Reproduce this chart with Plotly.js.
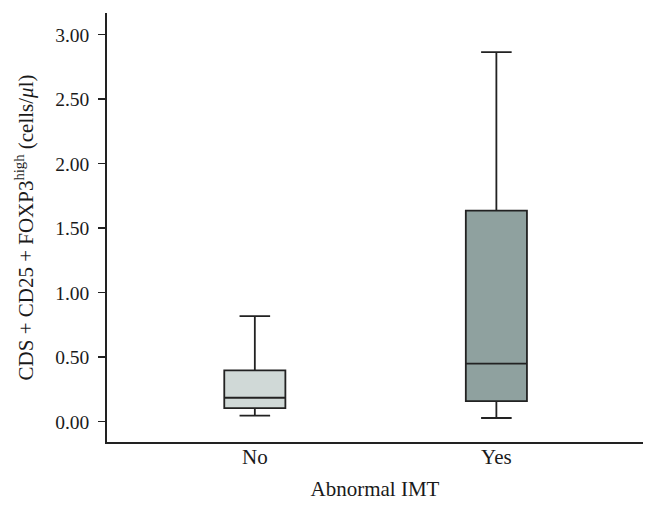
<!DOCTYPE html>
<html>
<head>
<meta charset="utf-8">
<script src="https://cdn.plot.ly/plotly-3.0.1.min.js"></script>
<style>html,body{margin:0;padding:0;background:#fff;}#chart{width:658px;height:513px;}</style>
</head>
<body>
<div id="chart"></div>
<script>
const categories = ['No', 'Yes'];
const lowerWhisker = [0.047, 0.029];
const q1 = [0.106, 0.160];
const median = [0.186, 0.450];
const q3 = [0.398, 1.636];
const upperWhisker = [0.819, 2.864];
const fillColors = ['#d0d9d7', '#8fa19f'];
const yTicks = [0, 0.5, 1, 1.5, 2, 2.5, 3];

const fontFam = '"Liberation Serif", "DejaVu Serif", serif';
const traces = categories.map((c, i) => ({
  type: 'box',
  x: [c],
  lowerfence: [lowerWhisker[i]],
  q1: [q1[i]],
  median: [median[i]],
  q3: [q3[i]],
  upperfence: [upperWhisker[i]],
  fillcolor: fillColors[i],
  line: {color: '#222222', width: 1.8},
  width: 0.253,
  whiskerwidth: 0.5,
  boxpoints: false,
  hoverinfo: 'skip',
  showlegend: false
}));

const layout = {
  width: 658, height: 513,
  margin: {l: 107, r: 15, t: 13, b: 71},
  paper_bgcolor: '#ffffff', plot_bgcolor: '#ffffff',
  font: {family: fontFam, color: '#1a1a1a', size: 20},
  boxmode: 'overlay',
  showlegend: false,
  xaxis: {
    type: 'category',
    range: [-0.612, 1.607],
    showline: true, linecolor: '#222222', linewidth: 1.8,
    showgrid: false, zeroline: false, ticks: '',
    ticklabelstandoff: -5,
    tickfont: {family: fontFam, size: 21, color: '#1a1a1a'},
    title: {text: 'Abnormal IMT', font: {family: fontFam, size: 21, color: '#1a1a1a'}, standoff: 13},
    automargin: false
  },
  yaxis: {
    range: [-0.157, 3.168],
    tickvals: yTicks,
    tickformat: '.2f',
    showline: true, linecolor: '#222222', linewidth: 1.8,
    showgrid: false, zeroline: false,
    ticks: 'outside', ticklen: 7, tickwidth: 1.5, tickcolor: '#222222',
    ticklabelstandoff: 5,
    tickfont: {family: fontFam, size: 19.5, color: '#1a1a1a'},
    title: {text: 'CDS + CD25 + FOXP3<sup>high</sup> (cells/<i>μ</i>l)', font: {family: fontFam, size: 21, color: '#1a1a1a'}, standoff: 16},
    automargin: false
  }
};

Plotly.newPlot('chart', traces, layout, {staticPlot: true, displayModeBar: false});
</script>
</body>
</html>
